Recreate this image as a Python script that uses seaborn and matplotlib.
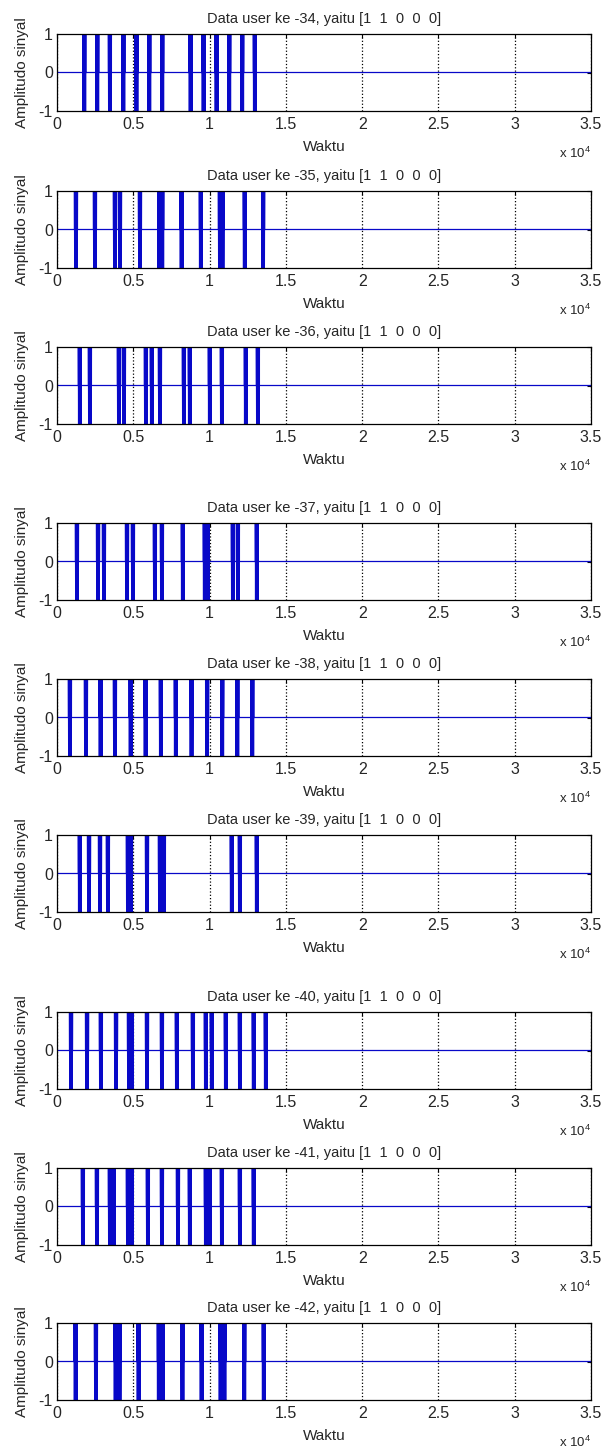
import numpy as np
import pandas as pd
import matplotlib
matplotlib.use("Agg")
import matplotlib.pyplot as plt
import seaborn as sns

sns.set_style("white")
plt.rcParams['font.family'] = ['Liberation Sans', 'DejaVu Sans']
plt.rcParams['mathtext.default'] = 'regular'

# user numbers shown in the titles
users = [34, 35, 36, 37, 38, 39, 40, 41, 42]
bits = "[1  1  0  0  0]"

# centres of the carrier bursts (sample index)
user34 = [1790, 2640, 3470, 4350, 5210, 6050, 6900, 8760, 9610, 10460, 11290, 12140, 12970]
user35 = [1245, 2490, 3800, 4130, 5440, 6700, 6900, 8170, 9430, 10680, 10850, 12310, 13510]
user36 = [1500, 2160, 4060, 4390, 5830, 6220, 6750, 8320, 8710, 10020, 10810, 12380, 13170]
user37 = [1310, 2690, 3080, 4590, 4980, 6420, 6880, 8250, 9690, 9890, 11530, 11860, 13100]
user38 = [850, 1900, 2860, 3800, 4830, 5810, 6810, 7790, 8820, 9840, 10830, 11820, 12800]
user39 = [1500, 2100, 2820, 3340, 4650, 4850, 5900, 6750, 7010, 11460, 11990, 13100]
user40 = [920, 1970, 2880, 3870, 4720, 4910, 5900, 6880, 7860, 8910, 9760, 10150, 11070,
          11990, 12900, 13690]
user41 = [1700, 2620, 3470, 3730, 4650, 4910, 5960, 6880, 7930, 8710, 9760, 10020, 10810,
          11990, 12900]
user42 = [1225, 2555, 3845, 4100, 5350, 6675, 6925, 8225, 9480, 10725, 10975, 12275, 13555]
bursts = [user34, user35, user36, user37, user38, user39, user40, user41, user42]

n_samples = 35000
burst_half = 100   # half width of a burst in samples
carrier_step = 14  # samples between carrier peaks

# axes tops in pixels (three stacked figures of three panels)
tops = [34, 191, 347, 523, 679, 835, 1012, 1168, 1323]
W, H = 605, 1451
ax_h = 77
left, right = 57, 591


def build_signal(centres):
    t = [0]
    a = [0]
    for c in centres:
        xs = np.arange(c - burst_half, c + burst_half + 1, carrier_step)
        t.append(xs[0])
        a.append(0)
        for k, x in enumerate(xs):
            t.append(x)
            a.append(1 if k % 2 == 0 else -1)
        t.append(xs[-1])
        a.append(0)
    t.append(n_samples)
    a.append(0)
    return pd.DataFrame({"Waktu": t, "Amplitudo": a})


fig = plt.figure(figsize=(W / 100, H / 100), dpi=100)

for i, (u, centres) in enumerate(zip(users, bursts)):
    ax = fig.add_axes([left / W, 1 - (tops[i] + ax_h) / H, (right - left) / W, ax_h / H])
    df = build_signal(centres)
    sns.lineplot(data=df, x="Waktu", y="Amplitudo", ax=ax, color="#0808c8",
                 linewidth=0.9, sort=False, estimator=None)
    ax.set_xlim(0, n_samples)
    ax.set_ylim(-1, 1)
    ax.set_xticks(np.arange(0, 35001, 5000))
    ax.set_xticklabels(["0", "0.5", "1", "1.5", "2", "2.5", "3", "3.5"])
    ax.set_yticks([-1, 0, 1])
    ax.set_yticklabels(["-1", "0", "1"])
    ax.tick_params(direction="in", length=3, width=0.8, labelsize=11.5,
                   top=True, right=True, color="black")
    ax.tick_params(axis="x", pad=4)
    ax.tick_params(axis="y", pad=3)
    ax.xaxis.grid(True, linestyle=":", color="black", linewidth=0.9)
    ax.yaxis.grid(False)
    for s in ax.spines.values():
        s.set_color("black")
        s.set_linewidth(0.9)
    ax.set_title(f"Data user ke -{u}, yaitu {bits}", fontsize=10.5, pad=8)
    ax.set_xlabel("Waktu", fontsize=11)
    ax.xaxis.set_label_coords(0.5, -29 / ax_h)
    ax.set_ylabel("Amplitudo sinyal", fontsize=11)
    ax.yaxis.set_label_coords(-28 / (right - left), 0.5)
    ax.text(1.0, -42 / ax_h, r"x 10$^{4}$", transform=ax.transAxes,
            ha="right", va="center", fontsize=9.5)

fig.savefig("out.png", dpi=100)
